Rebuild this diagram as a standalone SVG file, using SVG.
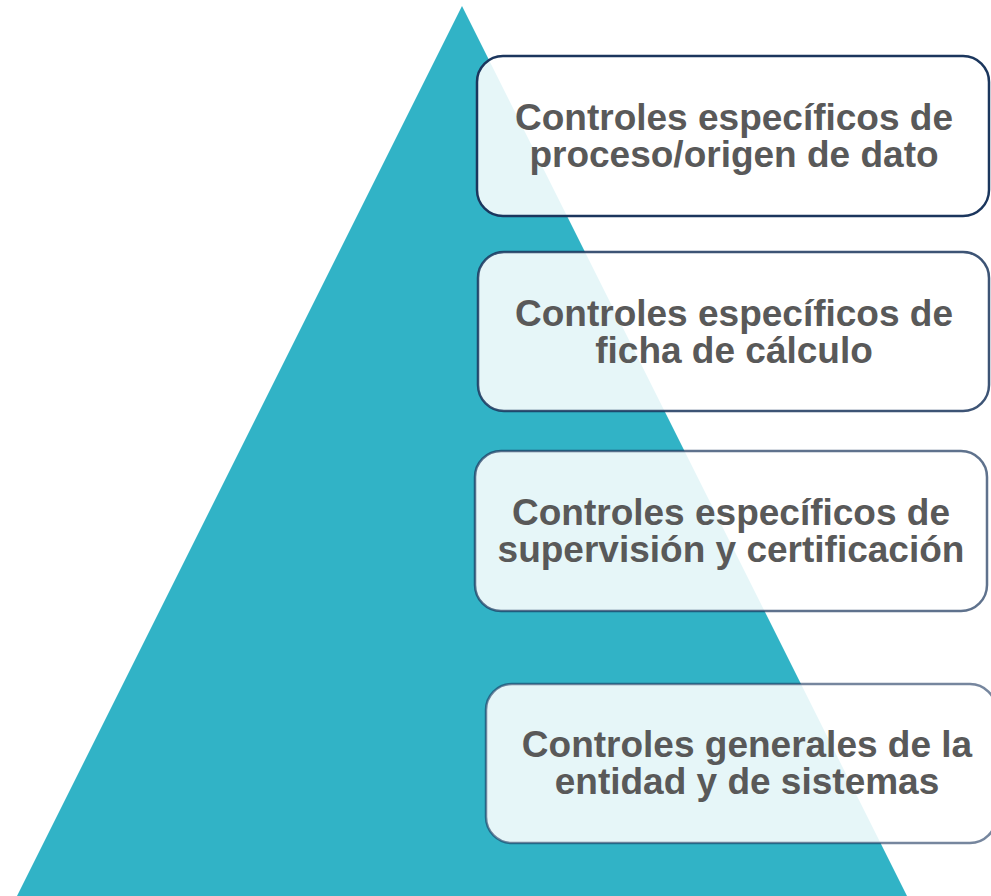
<svg xmlns="http://www.w3.org/2000/svg" width="991" height="896" viewBox="0 0 991 896">
<style>
.box{fill:#ffffff;fill-opacity:0.88;stroke-width:2.5}
.t{font-family:"Liberation Sans",Arial,sans-serif;font-weight:bold;font-size:37px;fill:#595959;text-anchor:middle}
</style>
<rect width="991" height="896" fill="#ffffff"/>
<g id="pyramid"><polygon points="462,6 17,896 907,896" fill="#31B3C6"/></g>
<g id="connectors"></g>
<g id="n1">
<rect class="box" x="477" y="56" width="512" height="160" rx="26" stroke="#1B365D"/>
<text class="t" x="734" y="130">Controles específicos de</text>
<text class="t" x="734" y="167">proceso/origen de dato</text>
</g>
<g id="n2">
<rect class="box" x="478" y="252" width="511" height="159" rx="26" stroke="#1B365D" stroke-opacity="0.85"/>
<text class="t" x="734" y="326">Controles específicos de</text>
<text class="t" x="734" y="363">ficha de cálculo</text>
</g>
<g id="n3">
<rect class="box" x="475" y="451" width="512" height="160" rx="26" stroke="#1B365D" stroke-opacity="0.7"/>
<text class="t" x="731" y="525">Controles específicos de</text>
<text class="t" x="731" y="562">supervisión y certificación</text>
</g>
<g id="n4">
<rect class="box" x="486" y="684" width="510" height="159" rx="26" stroke="#1B365D" stroke-opacity="0.6"/>
<text class="t" x="747" y="757">Controles generales de la</text>
<text class="t" x="747" y="794">entidad y de sistemas</text>
</g>
</svg>
